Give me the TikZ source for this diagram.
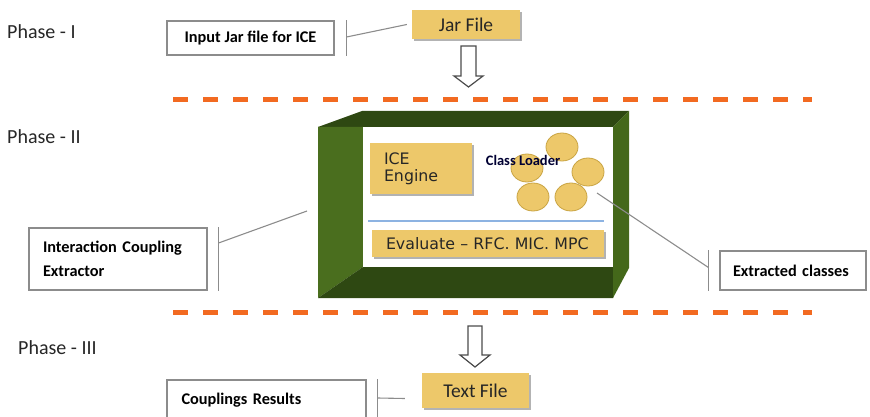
\documentclass[tikz,border=0pt]{standalone}
\usepackage{fontspec}
\setmainfont{Carlito}
\newfontfamily\engfont{DejaVu Sans}
\usetikzlibrary{shadows,shapes.geometric}

\definecolor{gold}{HTML}{EDC86A}
\definecolor{golddark}{HTML}{C9A443}
\definecolor{dashorange}{HTML}{F26A21}
\definecolor{greenface}{HTML}{4A6E1E}
\definecolor{greenside}{HTML}{44681A}
\definecolor{greendark}{HTML}{2E4812}
\definecolor{leadgray}{HTML}{8C8C8C}
\definecolor{ruleblue}{HTML}{8DB3E2}

\tikzset{
  labelbox/.style={draw=leadgray, line width=1.1pt, fill=white, inner sep=0pt,
    font=\fontsize{16.3}{24}\selectfont\bfseries},
  filebox/.style={fill=gold, inner sep=0pt, text=black!85,
    drop shadow={shadow xshift=2pt, shadow yshift=-2pt, fill=black!50, opacity=.6},
    font=\fontsize{19.5}{20}\selectfont},
  enginebox/.style={filebox, font=\engfont\fontsize{15.8}{20}\selectfont, align=left},
  loaderdisc/.style={ellipse, draw=golddark, line width=.8pt, fill=gold,
    minimum width=32pt, minimum height=28pt, inner sep=0pt},
  phaselabel/.style={anchor=west, inner sep=0pt, text=black!85,
    font=\fontsize{20}{22}\selectfont},
  phasedash/.style={dashorange, line width=5pt, dash pattern=on 15pt off 15pt},
  leader/.style={leadgray, line width=1.1pt},
  hollow/.style={draw=black!70, line width=1.2pt, fill=white, line join=miter}
}

\begin{document}
\begin{tikzpicture}[x=1pt, y=-1pt]
    \useasboundingbox (0,0) rectangle (870,417);

    \node[phaselabel] (phase1) at (7,32) {Phase - I};
    \node[phaselabel] (phase2) at (7,137) {Phase - II};
    \node[phaselabel] (phase3) at (18,348) {Phase - III};

    \draw[phasedash] (173,100) -- (812,100);
    \draw[phasedash] (173,312) -- (812,312);

    \node[filebox, minimum width=108pt, minimum height=29pt] (jar) at (466,24.5) {Jar File};
    \node[labelbox, minimum width=167pt, minimum height=34pt] (input) at (250.5,38) {Input Jar file for ICE};
    \draw[leader] ([xshift=12pt]input.north east) -- ([xshift=12pt]input.south east);
    \draw[leader] ([xshift=12pt,yshift=1pt]input.east) -- ([xshift=-5pt]jar.west);

    \coordinate (arrowA) at (468.5,46);
    \draw[hollow] (arrowA) ++(-7.5,0) -- ++(15,0) -- ++(0,30) -- ++(7,0) -- ++(-14.5,11)
        -- ++(-14.5,-11) -- ++(7,0) -- cycle;

    \fill[greendark] (318,127) -- (362,111) -- (629,111) -- (613,127) -- cycle;
    \fill[greenface] (318,127) -- (363,127) -- (363,267) -- (318,298) -- cycle;
    \fill[greendark] (318,298) -- (363,267) -- (613,267) -- (613,298) -- cycle;
    \fill[greenside] (613,127) -- (629,111) -- (629,268) -- (613,298) -- cycle;
    \fill[white] (363,127) rectangle (613,267);

    \node[enginebox, minimum width=102pt, minimum height=51pt, text width=74pt] (engine) at (421,168.5) {ICE\\[-3pt]Engine};
    \draw[ruleblue, line width=1.5pt] (368,221) -- (604,221);
    \node[enginebox, minimum width=232pt, minimum height=27pt, text width=204pt] (evaluate) at (488,243.5) {Evaluate – RFC. MIC. MPC};

    \foreach \cx/\cy [count=\i] in {562/147, 527/168, 588/172, 533/197, 571/197}
        \node[loaderdisc] (disc\i) at (\cx,\cy) {};
    \node[text=blue!20!black, inner sep=0pt, font=\fontsize{14.5}{15}\selectfont\bfseries] (loader) at (523,160) {Class Loader};

    \node[labelbox, minimum width=178pt, minimum height=62pt, text width=150pt, align=left] (extractor) at (118,259) {Interaction Coupling\\Extractor};
    \coordinate (boxleft) at (307,211);
    \draw[leader] ([xshift=11pt]extractor.north east) -- ([xshift=11pt]extractor.south east);
    \draw[leader] ([xshift=11pt,yshift=16pt]extractor.east) -- (boxleft);

    \node[labelbox, minimum width=146pt, minimum height=39pt, text width=120pt, align=left] (classes) at (793,270.5) {Extracted classes};
    \coordinate (discedge) at (597,193);
    \draw[leader] ([xshift=-11pt]classes.north west) -- ([xshift=-11pt]classes.south west);
    \draw[leader] ([xshift=-11pt,yshift=3pt]classes.west) -- (discedge);

    \coordinate (arrowB) at (475,326);
    \draw[hollow] (arrowB) ++(-7,0) -- ++(14,0) -- ++(0,29) -- ++(8,0) -- ++(-15,12)
        -- ++(-15,-12) -- ++(8,0) -- cycle;

    \node[filebox, minimum width=107pt, minimum height=35pt] (text) at (475.5,390.5) {Text File};
    \node[labelbox, minimum width=199pt, minimum height=40pt, text width=170pt, align=left] (results) at (266.5,400) {Couplings Results};
    \draw[leader] ([xshift=11pt]results.north east) -- ([xshift=11pt]results.south east);
    \draw[leader] ([xshift=11pt,yshift=2pt]results.east) -- ([xshift=-17pt,yshift=-8pt]text.west);
\end{tikzpicture}
\end{document}
